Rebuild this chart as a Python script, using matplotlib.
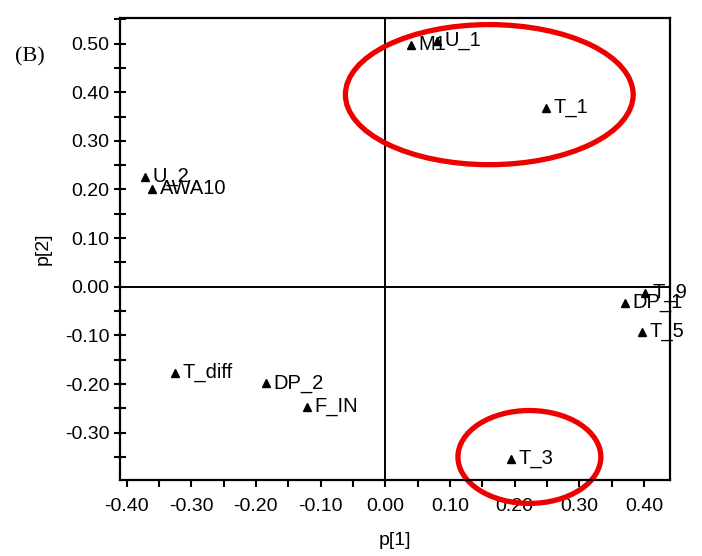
import matplotlib
matplotlib.use("Agg")
from matplotlib import pyplot as plt
from matplotlib.patches import Ellipse
from matplotlib.ticker import MultipleLocator, FormatStrFormatter

etiquetas = ["M1", "U_1", "T_1", "U_2", "AWA10", "T_diff", "DP_2", "F_IN", "T_3", "DP_1", "T_9", "T_5"]
p1 = [0.040, 0.080, 0.249, -0.371, -0.360, -0.325, -0.184, -0.121, 0.195, 0.371, 0.402, 0.397]
p2 = [0.498, 0.506, 0.368, 0.226, 0.202, -0.177, -0.198, -0.247, -0.354, -0.033, -0.012, -0.093]

# elipses rojas: (centro x, centro y, ancho, alto)
elipses = [(0.161, 0.395, 0.445, 0.288), (0.223, -0.350, 0.221, 0.191)]

plt.rcParams['font.family'] = ['Liberation Sans', 'DejaVu Sans']

fig = plt.figure(figsize=(7.02, 5.56), dpi=100)
ax = fig.add_axes([0.171, 0.137, 0.783, 0.831])

ax.plot(p1, p2, linestyle='none', marker='^', color='black', markersize=6)
for x, y, txt in zip(p1, p2, etiquetas):
    ax.annotate(txt, (x, y), xytext=(5.5, 0), textcoords='offset points',
                fontsize=14.5, va='center', ha='left', annotation_clip=False, clip_on=False)

ax.axhline(0, color='black', linewidth=1.4)
ax.axvline(0, color='black', linewidth=1.4)

for cx, cy, w, h in elipses:
    ax.add_patch(Ellipse((cx, cy), w, h, fill=False, edgecolor='#ee0000', linewidth=3.8, clip_on=False, zorder=5))

ax.set_xlim(-0.41, 0.44)
ax.set_ylim(-0.397, 0.553)

ax.xaxis.set_major_locator(MultipleLocator(0.1))
ax.xaxis.set_minor_locator(MultipleLocator(0.05))
ax.yaxis.set_major_locator(MultipleLocator(0.1))
ax.yaxis.set_minor_locator(MultipleLocator(0.05))
ax.xaxis.set_major_formatter(FormatStrFormatter('%.2f'))
ax.yaxis.set_major_formatter(FormatStrFormatter('%.2f'))

ax.tick_params(axis='x', which='both', direction='out', length=5, width=1.5, labelsize=14, pad=8)
ax.tick_params(axis='y', which='both', direction='inout', length=9, width=1.5, labelsize=14, pad=3)

for s in ax.spines.values():
    s.set_linewidth(1.6)
    s.set_zorder(6)

ax.set_xlabel("p[1]", fontsize=14, labelpad=12)
ax.set_ylabel("p[2]", fontsize=14, labelpad=10)

fig.text(0.021, 0.897, "(B)", fontsize=16, family='Liberation Serif', va='center', ha='left')

fig.savefig("out.png", dpi=100)
